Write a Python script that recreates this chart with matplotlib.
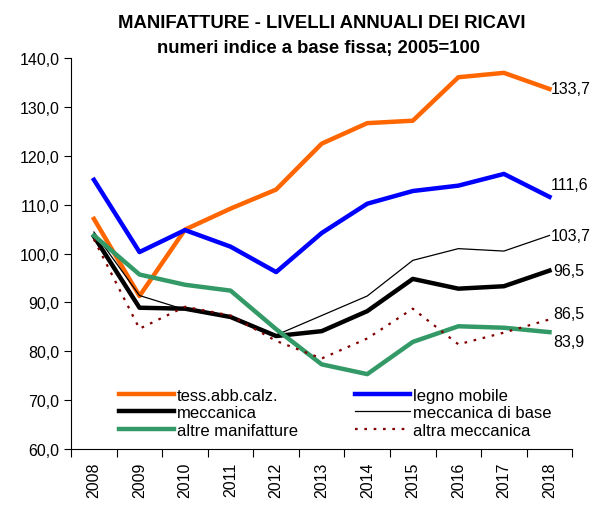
import matplotlib
matplotlib.use("Agg")
import matplotlib.pyplot as plt
import numpy as np

plt.rcParams['font.family'] = ['Liberation Sans', 'DejaVu Sans']

years = ['2008', '2009', '2010', '2011', '2012', '2013', '2014', '2015', '2016', '2017', '2018']
tess = [107.1, 91.3, 104.9, 109.2, 113.1, 122.5, 126.7, 127.2, 136.1, 137.0, 133.7]
legno = [115.1, 100.3, 104.8, 101.4, 96.2, 104.2, 110.2, 112.8, 113.9, 116.3, 111.6]
meccanica = [103.5, 88.9, 88.7, 87.0, 83.1, 84.1, 88.2, 94.8, 92.8, 93.3, 96.5]
mecc_base = [104.4, 91.4, 88.5, 86.9, 83.3, 87.3, 91.3, 98.6, 101.0, 100.5, 103.7]
altre = [103.7, 95.7, 93.6, 92.4, 84.5, 77.3, 75.3, 81.9, 85.1, 84.8, 83.9]
altra_mecc = [102.9, 84.6, 89.1, 87.3, 82.1, 78.5, 82.6, 88.7, 81.4, 83.8, 86.5]

fig = plt.figure(figsize=(6.03, 5.06), dpi=100)
ax = fig.add_axes([0.118, 0.111, 0.831, 0.772])

x = np.arange(len(years))
l1, = ax.plot(x, tess, color='#FF6600', lw=3.2, label='tess.abb.calz.')
l2, = ax.plot(x, legno, color='#0000FF', lw=3.2, label='legno mobile')
l3, = ax.plot(x, meccanica, color='black', lw=3.2, label='meccanica')
l4, = ax.plot(x, mecc_base, color='black', lw=0.9, label='meccanica di base')
l5, = ax.plot(x, altre, color='#339966', lw=3.2, label='altre manifatture')
l6, = ax.plot(x, altra_mecc, color='#800000', lw=1.6, ls=(0, (1.2, 3)), label='altra meccanica')

# end labels
ends = [(tess[-1], 0), (legno[-1], 9), (mecc_base[-1], 0), (meccanica[-1], 0),
        (altra_mecc[-1], 4.5), (altre[-1], -6.5)]
for val, dy in ends:
    dx = 1 if val >= 100 else 3
    ax.annotate(f"{val:.1f}".replace('.', ','), (x[-1], val), xytext=(dx, dy),
                textcoords='offset points', ha='left', va='center', fontsize=11.5)

ax.set_xlim(-0.5, len(years) - 0.5)
ax.set_ylim(60, 140)
yt = np.arange(60, 141, 10)
ax.set_yticks(yt)
ax.set_yticklabels([f"{v:.1f}".replace('.', ',') for v in yt], fontsize=11.5)
ax.set_xticks(np.arange(-0.5, len(years), 1))
ax.set_xticklabels([])
ax.set_xticks(x, minor=True)
ax.set_xticklabels(years, minor=True, rotation=90, fontsize=11.5)
ax.tick_params(axis='x', which='minor', length=0, pad=9)
ax.tick_params(axis='x', which='major', length=6, direction='out')
ax.tick_params(axis='y', length=5, direction='out')
ax.spines['top'].set_visible(False)
ax.spines['right'].set_visible(False)

handles = [l1, l3, l5, l2, l4, l6]
ax.legend(handles, [h.get_label() for h in handles], ncol=2, frameon=False,
          fontsize=12, handlelength=3.3, handletextpad=0.2, columnspacing=3.4,
          labelspacing=0.15, loc='lower left', bbox_to_anchor=(0.065, -0.01))

fig.text(0.533, 0.953, 'MANIFATTURE - LIVELLI ANNUALI DEI RICAVI', ha='center', va='center',
         fontsize=13.3, fontweight='bold')
fig.text(0.528, 0.904, 'numeri indice a base fissa; 2005=100', ha='center', va='center',
         fontsize=13.3, fontweight='bold')

fig.savefig('out.png', dpi=100)
